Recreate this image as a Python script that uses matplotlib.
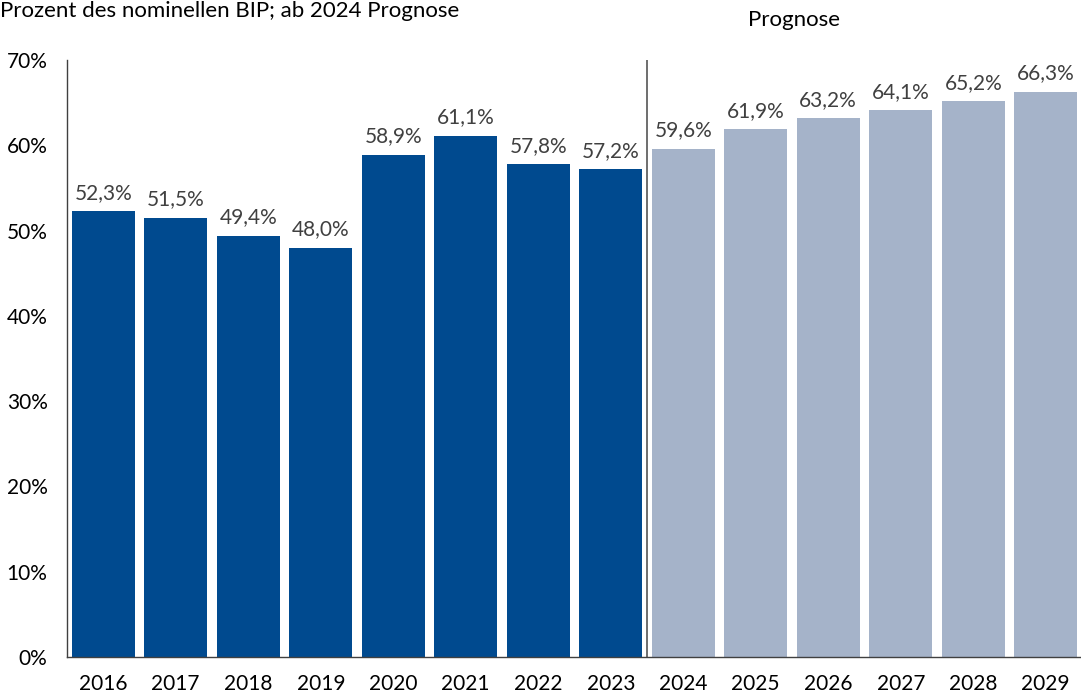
import matplotlib
matplotlib.use("Agg")
import matplotlib.pyplot as plt
from matplotlib.ticker import FuncFormatter

# Data
years = ["2016", "2017", "2018", "2019", "2020", "2021", "2022", "2023",
         "2024", "2025", "2026", "2027", "2028", "2029"]
values = [52.3, 51.5, 49.4, 48.0, 58.9, 61.1, 57.8, 57.2,
          59.6, 61.9, 63.2, 64.1, 65.2, 66.3]
first_forecast = 8  # index of 2024

DARK = "#004a8f"
LIGHT = "#a5b3c9"
TEXT = "#404040"

plt.rcParams["font.family"] = ["Lato", "DejaVu Sans"]

fig = plt.figure(figsize=(10.81, 6.94), dpi=100)
ax = fig.add_axes([67 / 1081, 37 / 694, 1015 / 1081, 597 / 694])

x = list(range(len(years)))
colors = [DARK if i < first_forecast else LIGHT for i in x]
bars = ax.bar(x, values, width=0.87, color=colors)

for b, v in zip(bars, values):
    ax.annotate(f"{v:.1f}%".replace(".", ","),
                (b.get_x() + b.get_width() / 2, v),
                xytext=(0, 6), textcoords="offset points",
                ha="center", va="bottom", fontsize=15, color=TEXT)

ax.axvline(first_forecast - 0.5, ymin=0, ymax=1, color="#555555", lw=1.2)

ax.set_xlim(-0.5, len(years) - 0.5)
ax.set_ylim(0, 70)
ax.set_yticks(range(0, 71, 10))
ax.yaxis.set_major_formatter(FuncFormatter(lambda v, p: f"{int(v)}%"))
ax.set_xticks(x)
ax.set_xticklabels(years)
ax.tick_params(axis="both", length=0, labelsize=15, colors="black")
ax.tick_params(axis="y", pad=14)
ax.tick_params(axis="x", pad=12)

for s in ["top", "right"]:
    ax.spines[s].set_visible(False)
for s in ["left", "bottom"]:
    ax.spines[s].set_color("#404040")
    ax.spines[s].set_linewidth(1.0)

# title sits at the very top edge, kept fully inside the canvas
fig.text(0.0, (694 - 1) / 694, "Prozent des nominellen BIP; ab 2024 Prognose",
         ha="left", va="top", fontsize=16, color="black")
fig.text(794 / 1081, (694 - 20) / 694, "Prognose",
         ha="center", va="center", fontsize=16, color="black")

fig.savefig("out.png", dpi=100)
